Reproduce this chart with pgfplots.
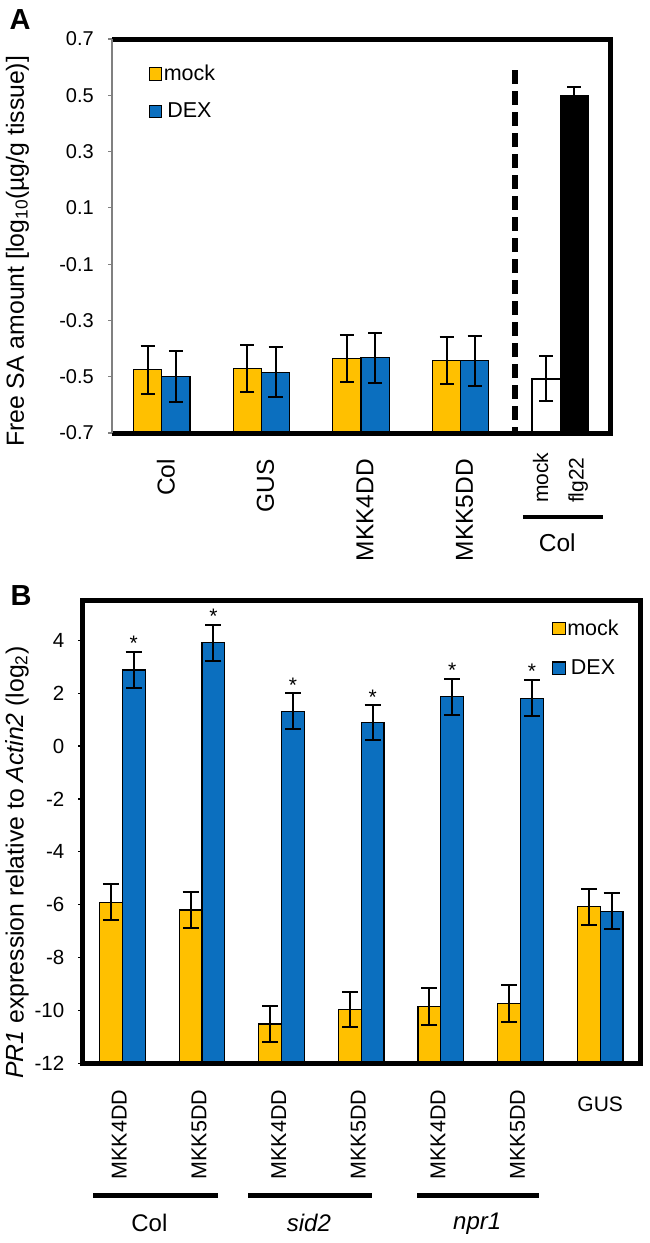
\documentclass[border=0pt]{standalone}
\usepackage{fontspec}
\setmainfont{Liberation Sans}
\usepackage{pgfplots}
\usepackage{pgfplotstable}
\pgfplotsset{compat=1.18}
\definecolor{cmock}{HTML}{FFC000}
\definecolor{cdex}{HTML}{0B6FBF}

\pgfplotstableread{
x v e
0 -0.475 0.085
1 -0.472 0.083
2 -0.436 0.083
3 -0.443 0.083
}\Amock
\pgfplotstableread{
x v e
0 -0.499 0.090
1 -0.484 0.089
2 -0.433 0.090
3 -0.443 0.089
}\Adex
\pgfplotstableread{
x v e
4 -0.508 0.080
}\Acolmock
\pgfplotstableread{
x v e
4 0.500 0.031
}\Acolflg
\pgfplotstableread{
x v e
0 -5.90 0.68
1 -6.20 0.68
2 -10.51 0.69
3 -9.95 0.66
4 -9.85 0.70
5 -9.72 0.70
6 -6.08 0.67
}\Bmock
\pgfplotstableread{
x v e
0 2.87 0.68
1 3.90 0.67
2 1.32 0.67
3 0.88 0.66
4 1.86 0.69
5 1.81 0.68
6 -6.24 0.67
}\Bdex
\pgfplotstableread{
x v
0 3.55
1 4.57
2 1.99
3 1.54
4 2.55
5 2.49
}\Bstar

\newcommand{\fs}[1]{\fontsize{#1}{1.2\dimexpr#1\relax}\selectfont}

\begin{document}
\begin{tikzpicture}
\path[use as bounding box] (0,0) rectangle (650bp,-1243bp);
\node[font=\fs{29bp}\bfseries] at (20bp,-20bp) {A};
\node[font=\fs{29bp}\bfseries] at (21bp,-596bp) {B};

% ---------------- Panel A
\begin{axis}[
  at={(112bp,-433bp)}, anchor=south west, scale only axis,
  width=498bp, height=394bp,
  xmin=-0.5, xmax=4.5, ymin=-0.7, ymax=0.7,
  y coord trafo/.code={\pgfmathparse{#1+0.7}},
  y coord inv trafo/.code={\pgfmathparse{#1-0.7}},
  ybar, bar width=28.2bp,
  clip=false,
  axis line style={draw=none},
  ytick={-0.7,-0.5,-0.3,-0.1,0.1,0.3,0.5,0.7},
  yticklabels={-0.7,-0.5,-0.3,-0.1,0.1,0.3,0.5,0.7},
  ytick pos=left, tick align=outside, major tick length=4bp,
  ytick style={gray, line width=1.2bp},
  yticklabel style={font=\fs{20bp}, inner sep=0pt, xshift=-14bp},
  xtick={0,1,2,3},
  xticklabels={Col,GUS,MKK4DD,MKK5DD},
  xtick style={draw=none},
  xticklabel style={xshift=4bp, font=\fs{24.5bp}, rotate=90, anchor=east, inner sep=0pt},
  xticklabel shift=22bp,
  ylabel={Free SA amount [log\textsubscript{10}(µg/g tissue)]},
  ylabel style={font=\fs{24.8bp}, at={(axis description cs:-0.19,0.461)}, anchor=center},
  legend style={draw=none, fill=none, at={(axis description cs:0.073,0.938)}, anchor=north west,
     font=\fs{21.5bp}, row sep=18bp, inner sep=0pt, nodes={inner sep=1.5bp}},
  legend image code/.code={\draw[#1, line width=1.2bp] (0bp,-6.5bp) rectangle (12.5bp,6bp);},
  legend entries={mock,DEX},
  error bars/error bar style={line width=2bp, black},
  error bars/error mark options={rotate=90, mark size=7bp, line width=2bp, black},
]
\addplot[fill=cmock, draw=black, line width=1.2bp, bar shift=-14.1bp,
  error bars/.cd, y dir=both, y explicit] table[x=x, y=v, y error=e] {\Amock};
\addplot[fill=cdex, draw=black, line width=1.2bp, bar shift=14.1bp,
  error bars/.cd, y dir=both, y explicit] table[x=x, y=v, y error=e] {\Adex};
\addplot[fill=white, draw=black, line width=1.2bp, bar shift=-14.1bp,
  error bars/.cd, y dir=both, y explicit] table[x=x, y=v, y error=e] {\Acolmock};
\addplot[fill=black, draw=black, line width=1.2bp, bar shift=14.1bp,
  error bars/.cd, y dir=both, y explicit] table[x=x, y=v, y error=e] {\Acolflg};
\draw[line width=5bp] (rel axis cs:0,1) -- (rel axis cs:1,1) -- (rel axis cs:1,0) -- (rel axis cs:0,0);
\draw[gray, line width=2bp] (rel axis cs:0,0) -- (rel axis cs:0,1);
\draw[line width=6bp, dash pattern=on 14bp off 7bp] (rel axis cs:0.81,0.921) -- (rel axis cs:0.81,0);
\node[font=\fs{21bp}, rotate=90, anchor=base west, inner sep=0pt] at (rel axis cs:0.8755,-0.178) {mock};
\node[font=\fs{21bp}, rotate=90, anchor=base west, inner sep=0pt] at (rel axis cs:0.947,-0.178) {flg22};
\draw[line width=4.3bp] (rel axis cs:0.825,-0.213) -- (rel axis cs:0.986,-0.213);
\node[font=\fs{24.5bp}] at (rel axis cs:0.894,-0.279) {Col};
\end{axis}

% ---------------- Panel B
\begin{axis}[
  at={(82.5bp,-1063.5bp)}, anchor=south west, scale only axis,
  width=557.5bp, height=463bp,
  xmin=-0.5, xmax=6.5, ymin=-12, ymax=5.5,
  y coord trafo/.code={\pgfmathparse{#1+12}},
  y coord inv trafo/.code={\pgfmathparse{#1-12}},
  ybar, bar width=22.8bp,
  clip=false,
  axis line style={draw=none},
  ytick={-12,-10,-8,-6,-4,-2,0,2,4},
  yticklabels={-12,-10,-8,-6,-4,-2,0,2,4},
  ytick pos=left, tick align=outside, major tick length=4bp,
  ytick style={black, line width=1.2bp},
  yticklabel style={font=\fs{20.5bp}, inner sep=0pt, xshift=-14bp},
  xtick={0,1,2,3,4,5},
  xticklabels={MKK4DD,MKK5DD,MKK4DD,MKK5DD,MKK4DD,MKK5DD},
  xtick style={draw=none},
  xticklabel style={xshift=-3bp, font=\fs{21.5bp}, rotate=90, anchor=east, inner sep=0pt},
  xticklabel shift=22bp,
  ylabel={\itshape PR1\upshape\ expression relative to \itshape Actin2\upshape\ (log\textsubscript{2})},
  ylabel style={font=\fs{24.8bp}, at={(axis description cs:-0.117,0.434)}, anchor=center},
  legend style={draw=none, fill=none, at={(axis description cs:0.842,0.962)}, anchor=north west,
     font=\fs{21.5bp}, row sep=20bp, inner sep=0pt, nodes={inner sep=1.5bp}},
  legend image code/.code={\draw[#1, line width=1.2bp] (0bp,-6.5bp) rectangle (12.5bp,6bp);},
  legend entries={mock,DEX},
  error bars/error bar style={line width=2bp, black},
  error bars/error mark options={rotate=90, mark size=8bp, line width=2bp, black},
]
\addplot[fill=cmock, draw=black, line width=1.2bp, bar shift=-11.4bp,
  error bars/.cd, y dir=both, y explicit] table[x=x, y=v, y error=e] {\Bmock};
\addplot[fill=cdex, draw=black, line width=1.2bp, bar shift=11.4bp,
  error bars/.cd, y dir=both, y explicit] table[x=x, y=v, y error=e] {\Bdex};
\addplot[draw=none, fill=none, bar shift=11.4bp, nodes near coords={*},
  every node near coord/.append style={anchor=south, inner sep=1bp, font=\fs{21bp}, black}]
  table[x=x, y=v] {\Bstar};
\draw[line width=5bp] (rel axis cs:0,0) rectangle (rel axis cs:1,1);
\node[font=\fs{21bp}] at (rel axis cs:0.9286,-0.0875) {GUS};
\draw[line width=5bp] (rel axis cs:0.0196,-0.286) -- (rel axis cs:0.243,-0.286);
\draw[line width=5bp] (rel axis cs:0.297,-0.286) -- (rel axis cs:0.520,-0.286);
\draw[line width=5bp] (rel axis cs:0.600,-0.286) -- (rel axis cs:0.819,-0.286);
\node[font=\fs{24bp}] at (rel axis cs:0.12,-0.345) {Col};
\node[font=\fs{24bp}\itshape] at (rel axis cs:0.406,-0.345) {sid2};
\node[font=\fs{24bp}\itshape] at (rel axis cs:0.708,-0.345) {npr1};
\end{axis}
\end{tikzpicture}
\end{document}
